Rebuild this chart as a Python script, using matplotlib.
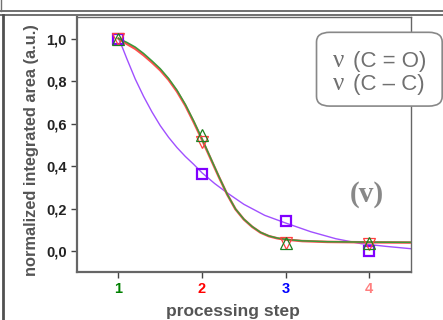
import matplotlib
matplotlib.use("Agg")
import matplotlib.pyplot as plt
from matplotlib.patches import FancyBboxPatch
from matplotlib.lines import Line2D

# measured points (processing steps 1-4)
steps = [1, 2, 3, 4]
co_pts = [1.0, 0.515, 0.038, 0.032]      # red, down triangles
cc_pts = [1.0, 0.548, 0.040, 0.040]      # green, up triangles
other_pts = [1.0, 0.362, 0.140, 0.002]   # purple squares

# fitted curves
sig_x = [1.0, 1.1, 1.2, 1.3, 1.4, 1.5, 1.6, 1.7, 1.8, 1.9, 2.0, 2.1, 2.2,
         2.3, 2.4, 2.5, 2.6, 2.7, 2.8, 2.9, 3.0, 3.2, 3.5, 4.0, 4.5]
sig_green = [1.0, 0.982, 0.960, 0.930, 0.895, 0.858, 0.812, 0.757, 0.690,
             0.612, 0.528, 0.440, 0.352, 0.268, 0.198, 0.150, 0.115, 0.088,
             0.071, 0.061, 0.055, 0.048, 0.044, 0.042, 0.041]
sig_red = [1.0, 0.975, 0.952, 0.922, 0.888, 0.851, 0.806, 0.751, 0.685,
           0.607, 0.524, 0.437, 0.350, 0.267, 0.197, 0.149, 0.114, 0.087,
           0.070, 0.060, 0.054, 0.047, 0.043, 0.041, 0.040]
exp_x = [1.0, 1.05, 1.1, 1.2, 1.3, 1.4, 1.5, 1.6, 1.7, 1.8, 1.9, 2.0, 2.15,
         2.3, 2.5, 2.75, 3.0, 3.3, 3.6, 3.9, 4.2, 4.5]
exp_y = [1.0, 0.955, 0.905, 0.810, 0.728, 0.655, 0.590, 0.535, 0.487, 0.445,
         0.408, 0.368, 0.318, 0.274, 0.220, 0.168, 0.132, 0.091, 0.058, 0.035,
         0.022, 0.011]

xtick_labels = ["1", "2", "3", "4"]
xtick_colors = ["#008000", "#ff0000", "#0000ff", "#ff7f7f"]
yticks = [0.0, 0.2, 0.4, 0.6, 0.8, 1.0]

W, H = 443, 320
fig = plt.figure(figsize=(W / 100, H / 100), dpi=100)
plt.rcParams['font.family'] = 'Liberation Sans'


def fx(px):
    return px / W


def fy(py):
    return 1 - py / H


ax = fig.add_axes([fx(76.7), fy(272.3), fx(411) - fx(76.7), fy(17.3) - fy(272.3)])

ax.plot(exp_x, exp_y, color="#a050ff", lw=1.0, zorder=2, solid_joinstyle="round")
ax.plot(sig_x, sig_red, color="#ff5050", lw=1.8, zorder=3, solid_joinstyle="round")
ax.plot(sig_x, sig_green, color="#3a9a3a", lw=1.1, zorder=4, solid_joinstyle="round")

ax.plot(steps, other_pts, "s", ms=7.5, mfc="none", mec="#8000ff", mew=1.6, zorder=5)
ax.plot(steps, co_pts, "v", ms=9, mfc="none", mec="#ff4040", mew=0.9, zorder=5)
ax.plot(steps, cc_pts, "^", ms=9, mfc="none", mec="#208020", mew=0.9, zorder=5)

ax.set_xlim(0.5, 4.5)
ax.set_ylim(-0.1, 1.1)
ax.set_xticks(steps)
ax.set_xticklabels(xtick_labels, fontsize=10.5, fontweight="bold")
for lab, c in zip(ax.get_xticklabels(), xtick_colors):
    lab.set_color(c)
ax.set_yticks(yticks)
ax.set_yticklabels([f"{v:.1f}".replace(".", ",") for v in yticks],
                   fontsize=10.5, fontweight="bold", color="#222222")
ax.tick_params(axis="both", direction="out", length=4, width=1, color="#444444")
ax.tick_params(axis="x", pad=3)
ax.tick_params(axis="y", pad=3)

for side in ["left", "bottom"]:
    ax.spines[side].set_color("#666666")
    ax.spines[side].set_linewidth(1.6)
for side in ["top", "right"]:
    ax.spines[side].set_color("#666666")
    ax.spines[side].set_linewidth(1.0)

fig.text(fx(233), fy(311.5), "processing step", ha="center", va="center",
         fontsize=12.5, fontweight="bold", color="#555555")
fig.text(fx(31.5), fy(150), "normalized integrated area (a.u.)", ha="center",
         va="center", rotation=90, fontsize=11.8, fontweight="bold", color="#555555")

fig.text(fx(366.5), fy(194), "(v)", ha="center", va="center", fontsize=21,
         fontweight="bold", family="Liberation Serif", color="#888888")

# label box
box = FancyBboxPatch((fx(320.5), fy(103.2)), fx(438.2) - fx(320.5), fy(35.2) - fy(103.2),
                     boxstyle="round,pad=0.009,rounding_size=0.03",
                     transform=fig.transFigure, facecolor="white",
                     edgecolor="#888888", lw=1.2, zorder=10)
fig.patches.append(box)
for base, txt in [(66.7, "(C = O)"), (90, "(C \u2013 C)")]:
    fig.text(fx(333), fy(base), "\u03bd", ha="left", va="baseline", fontsize=18,
             family="Liberation Serif", color="#707070", zorder=11)
    fig.text(fx(353), fy(base), txt, ha="left", va="baseline", fontsize=16,
             color="#707070", zorder=11)

# screenshot frame lines
for y in (10.5, 14.5):
    fig.add_artist(Line2D([0, 1], [fy(y), fy(y)], color="#707070", lw=1.4,
                          transform=fig.transFigure))
fig.add_artist(Line2D([fx(2.5), fx(2.5)], [fy(14.5), 0], color="#505050", lw=2.0,
                      transform=fig.transFigure))
fig.add_artist(Line2D([fx(0.5), fx(0.5)], [1, fy(10.5)], color="#707070", lw=1.0,
                      transform=fig.transFigure))

fig.savefig("out.png", dpi=100)
